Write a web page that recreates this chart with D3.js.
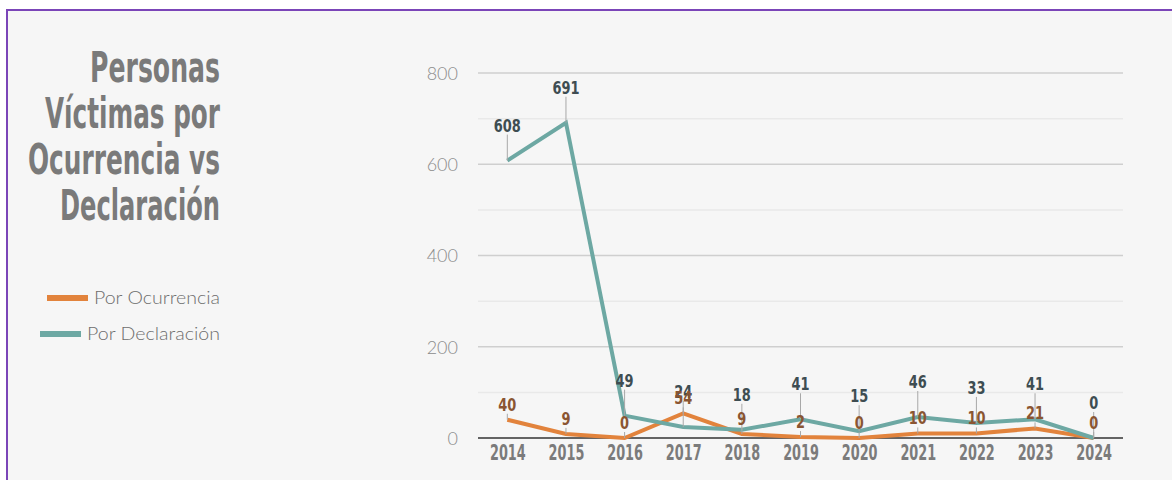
<!DOCTYPE html>
<html>
<head>
<meta charset="utf-8">
<script src="https://cdn.jsdelivr.net/npm/d3@7"></script>
<style>
  html, body { margin: 0; padding: 0; background: #ffffff; }
  svg { display: block; }
</style>
</head>
<body>
<svg id="chart" width="1172" height="480"></svg>
<script>
const years = ["2014","2015","2016","2017","2018","2019","2020","2021","2022","2023","2024"];
const ocurrencia = [40, 9, 0, 54, 9, 2, 0, 10, 10, 21, 0];
const declaracion = [608, 691, 49, 24, 18, 41, 15, 46, 33, 41, 0];
const yTicks = [0, 200, 400, 600, 800];
const titleLines = ["Personas", "Víctimas por", "Ocurrencia vs", "Declaración"];
const legendLabels = ["Por Ocurrencia", "Por Declaración"];

const colOc = "#e2833c", colDe = "#6da8a3";
const condensed = "'Liberation Sans Narrow', 'DejaVu Sans Condensed', 'Arial Narrow', sans-serif";

const svg = d3.select("#chart");
// panel
svg.append("rect").attr("x", 7).attr("y", 10).attr("width", 1200).attr("height", 500)
  .attr("fill", "#f6f6f6").attr("stroke", "#7b45b8").attr("stroke-width", 2);

const x = d3.scalePoint().domain(years).range([478, 1123]).padding(0.5);
const y = d3.scaleLinear().domain([0, 800]).range([438, 73]);

// minor grid
svg.append("g").selectAll("line").data(d3.range(100, 800, 200)).join("line")
  .attr("x1", 478).attr("x2", 1123).attr("y1", d => y(d)).attr("y2", d => y(d))
  .attr("stroke", "#e9e9e9").attr("stroke-width", 1.5);
// major grid
svg.append("g").selectAll("line").data(yTicks.filter(d => d > 0)).join("line")
  .attr("x1", 478).attr("x2", 1123).attr("y1", d => y(d)).attr("y2", d => y(d))
  .attr("stroke", "#cfcfcf").attr("stroke-width", 1.5);

// y axis labels
const yAxis = d3.axisLeft(y).tickValues(yTicks).tickSize(0).tickPadding(0).tickFormat(d3.format("d"));
const gy = svg.append("g").attr("transform", "translate(458,0)").call(yAxis);
gy.select(".domain").remove();
gy.selectAll("text").attr("font-family", "Lato, 'Open Sans', sans-serif").attr("font-weight", 300)
  .attr("font-size", 18).attr("fill", "#8c8c8c").attr("dy", "0.35em");

// x axis
const xAxis = d3.axisBottom(x).tickSize(0).tickPadding(0);
const gx = svg.append("g").attr("transform", "translate(0,438)").call(xAxis);
gx.select(".domain").attr("stroke", "#333").attr("stroke-width", 1.5).attr("d", "M478,0H1123");
gx.selectAll("text").attr("font-family", condensed).attr("font-weight", "bold")
  .attr("font-size", 21).attr("fill", "#7b7b7b").attr("dy", 0).attr("y", 0)
  .attr("transform", "translate(0,22) scale(0.68,1)");

// lines
const line = d3.line().x((d, i) => x(years[i])).y(d => y(d));
svg.append("path").datum(ocurrencia).attr("d", line).attr("fill", "none")
  .attr("stroke", colOc).attr("stroke-width", 4).attr("stroke-linejoin", "miter");
svg.append("path").datum(declaracion).attr("d", line).attr("fill", "none")
  .attr("stroke", colDe).attr("stroke-width", 4).attr("stroke-linejoin", "miter");

// labels
function labels(data, off, color) {
  const g = svg.append("g");
  g.selectAll("line").data(data).join("line")
    .attr("x1", (d, i) => x(years[i])).attr("x2", (d, i) => x(years[i]))
    .attr("y1", d => y(d) - off + 3).attr("y2", d => y(d))
    .attr("stroke", "#a8a8a8").attr("stroke-width", 1);
  g.selectAll("text").data(data).join("text")
    .attr("transform", (d, i) => `translate(${x(years[i])},${y(d) - off}) scale(0.8,1)`)
    .attr("text-anchor", "middle").attr("font-family", condensed).attr("font-weight", "bold")
    .attr("font-size", 18).attr("fill", color).text(d => d);
}
labels(declaracion, 29, "#3e4d52");
labels(ocurrencia, 9, "#8a5532");

// title
const tg = svg.append("g");
const titleWidths = [130, 175, 192, 160];
tg.selectAll("text").data(titleLines).join("text")
  .attr("x", 220).attr("y", (d, i) => 82 + i * 46)
  .attr("text-anchor", "end").attr("font-family", condensed).attr("font-weight", "bold")
  .attr("font-size", 42).attr("fill", "#7a7a7a")
  .attr("textLength", (d, i) => titleWidths[i]).attr("lengthAdjust", "spacingAndGlyphs")
  .text(d => d);

// legend
const legColors = [colOc, colDe];
const legY = [298, 334];
const legX = [[47, 88], [40, 81]];
const legW = [126, 133];
const lg = svg.append("g");
lg.selectAll("line").data(legendLabels).join("line")
  .attr("x1", (d, i) => legX[i][0]).attr("x2", (d, i) => legX[i][1])
  .attr("y1", (d, i) => legY[i]).attr("y2", (d, i) => legY[i])
  .attr("stroke", (d, i) => legColors[i]).attr("stroke-width", 6);
lg.selectAll("text").data(legendLabels).join("text")
  .attr("x", 220).attr("y", (d, i) => legY[i] + 6)
  .attr("text-anchor", "end").attr("font-family", "Lato, 'Open Sans', sans-serif").attr("font-weight", 300)
  .attr("font-size", 18).attr("fill", "#6e6e6e")
  .attr("textLength", (d, i) => legW[i]).attr("lengthAdjust", "spacingAndGlyphs")
  .text(d => d);
</script>
</body>
</html>
